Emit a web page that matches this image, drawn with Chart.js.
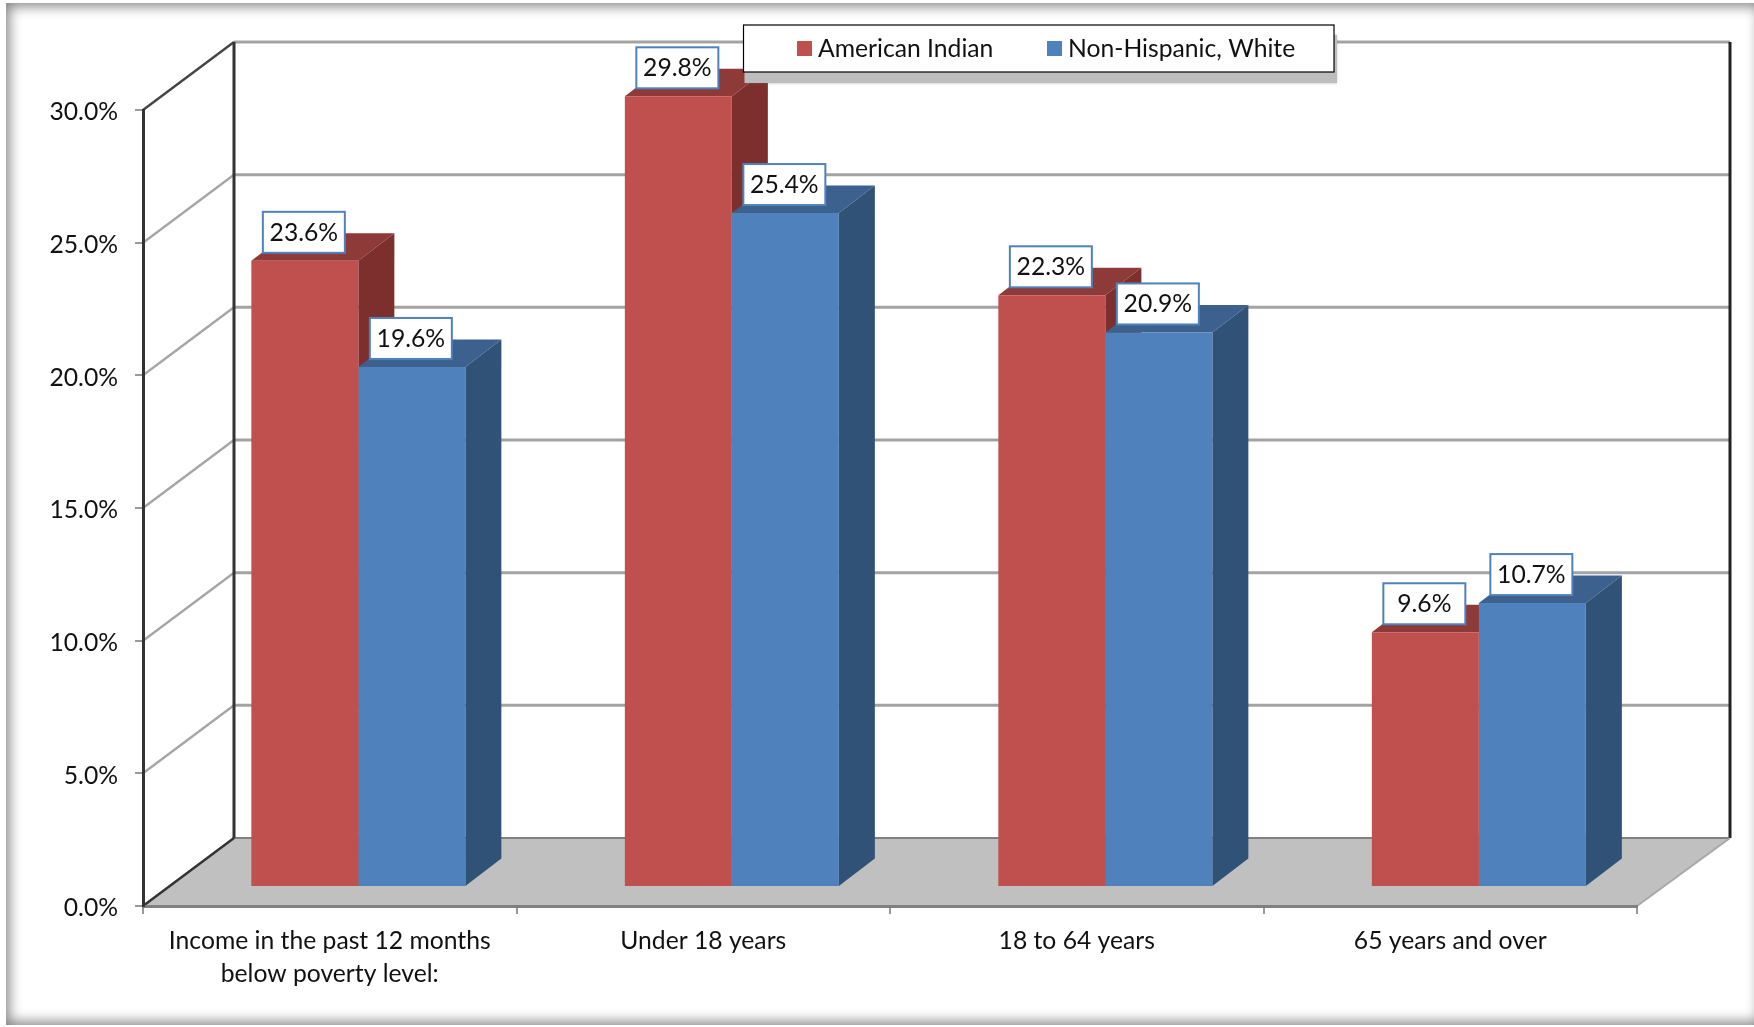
<!DOCTYPE html>
<html>
<head>
<meta charset="utf-8">
<style>
html,body{margin:0;padding:0;background:#fff;width:1754px;height:1027px;overflow:hidden}
#wrap{position:relative;width:1754px;height:1027px}
canvas{position:absolute;left:0;top:0;filter:blur(0.5px)}
#frame{position:absolute;left:6px;top:3px;width:1756px;height:1022px;box-shadow:inset 0 0 13px 3px #808080;pointer-events:none}
</style>
<script src="https://cdn.jsdelivr.net/npm/chart.js@4"></script>
</head>
<body>
<div id="wrap"><canvas id="c" width="1754" height="1027"></canvas><div id="frame"></div></div>
<script>
const categories = [['Income in the past 12 months','below poverty level:'],'Under 18 years','18 to 64 years','65 years and over'];
const americanIndian = [23.6, 29.8, 22.3, 9.6];
const nonHispanicWhite = [19.6, 25.4, 20.9, 10.7];
const seriesNames = ['American Indian','Non-Hispanic, White'];

const FONT = 'Lato, Carlito, "Open Sans", sans-serif';
const FONT_SIZE = 24.7;
const WALL = {dx:91, dy:-68, right:1730};
const PLANE = {dx:28.6, dy:-19};
const DEPTH = {dx:36, dy:-27.5};
const SHADES = [
  {side:'#7d2f2d', top:'#8e3a38'},
  {side:'#315277', top:'#3c618e'}
];

function line(ctx, pts, color, w){
  ctx.beginPath();
  pts.forEach((p,i)=> i?ctx.lineTo(p[0],p[1]):ctx.moveTo(p[0],p[1]));
  ctx.strokeStyle=color; ctx.lineWidth=w; ctx.stroke();
}
function poly(ctx, pts, color){
  ctx.beginPath();
  pts.forEach((p,i)=> i?ctx.lineTo(p[0],p[1]):ctx.moveTo(p[0],p[1]));
  ctx.closePath(); ctx.fillStyle=color; ctx.fill();
}

const threeD = {
  id:'threeD',
  beforeDraw(chart){
    const {ctx, chartArea:a, scales:{y}} = chart;
    ctx.save();
    const x0=a.left, x1=a.right, bx0=x0+WALL.dx, bx1=WALL.right;
    const zero=y.getPixelForValue(0), bz=zero+WALL.dy;
    poly(ctx,[[x0,zero],[bx0,bz],[bx1,bz],[x1,zero]],'#c0c0c0');
    y.ticks.forEach(t=>{
      const py=y.getPixelForValue(t.value), by=py+WALL.dy;
      if(t.value===0) return;
      line(ctx,[[bx0,by],[bx1,by]],'#a3a3a3',3);
      line(ctx,[[x0,py],[bx0,by]],t.value===30?'#444':'#a6a6a6',2.4);
    });
    line(ctx,[[bx0,bz],[bx1,bz]],'#808080',2);
    line(ctx,[[bx0,y.getPixelForValue(30)+WALL.dy],[bx0,bz]],'#333',3);
    line(ctx,[[bx1,y.getPixelForValue(30)+WALL.dy],[bx1,bz]],'#222',3);
    line(ctx,[[x0,zero],[bx0,bz]],'#333',2.5);
    line(ctx,[[x1,zero],[bx1,bz]],'#a8a8a8',2);
    ctx.restore();
  },
  beforeDatasetsDraw(chart){
    const ctx=chart.ctx;
    ctx.save();
    ctx.translate(PLANE.dx,PLANE.dy);
    chart.data.datasets.forEach((ds,di)=>{
      const s=SHADES[di];
      chart.getDatasetMeta(di).data.forEach(el=>{
        const p=el.getProps(['x','y','base','width'],true);
        const l=p.x-p.width/2, r=p.x+p.width/2, t=p.y, b=p.base;
        poly(ctx,[[l,t],[r,t],[r+DEPTH.dx,t+DEPTH.dy],[l+DEPTH.dx,t+DEPTH.dy]],s.top);
        poly(ctx,[[r,t],[r+DEPTH.dx,t+DEPTH.dy],[r+DEPTH.dx,b+DEPTH.dy],[r,b]],s.side);
      });
    });
    ctx.restore();
  },
  beforeDatasetDraw(chart){
    chart.ctx.save();
    chart.ctx.translate(PLANE.dx,PLANE.dy);
  },
  afterDatasetDraw(chart){ chart.ctx.restore(); },
  afterDatasetsDraw(chart){
    const ctx=chart.ctx;
    ctx.save();
    ctx.font=FONT_SIZE+'px '+FONT;
    ctx.textAlign='center'; ctx.textBaseline='middle';
    chart.data.datasets.forEach((ds,di)=>{
      chart.getDatasetMeta(di).data.forEach((el,i)=>{
        const p=el.getProps(['x','y'],true);
        const cx=p.x+PLANE.dx-1, cy=p.y+PLANE.dy-28.5, w=82, h=41;
        ctx.fillStyle='#fff';
        ctx.fillRect(cx-w/2,cy-h/2,w,h);
        ctx.strokeStyle='#4f81bd'; ctx.lineWidth=2;
        ctx.strokeRect(cx-w/2,cy-h/2,w,h);
        ctx.fillStyle='#111';
        ctx.fillText(ds.data[i].toFixed(1)+'%',cx,cy+0.5);
      });
    });
    // legend
    const lx=743.5, ly=25, lw=590.5, lh=47;
    ctx.fillStyle='#bdbdbd';
    ctx.shadowColor='rgba(120,120,120,.5)'; ctx.shadowBlur=3;
    ctx.fillRect(lx+1,ly+10,lw+2,lh+1);
    ctx.shadowColor='transparent'; ctx.shadowBlur=0;
    ctx.fillStyle='#fff'; ctx.fillRect(lx,ly,lw,lh);
    ctx.strokeStyle='#000'; ctx.lineWidth=1.2; ctx.strokeRect(lx,ly,lw,lh);
    const sw=[797,1047], tx=[818,1068];
    chart.data.datasets.forEach((ds,di)=>{
      ctx.fillStyle=ds.backgroundColor;
      ctx.fillRect(sw[di],41,15,15);
      ctx.fillStyle='#111'; ctx.textAlign='left';
      ctx.fillText(ds.label,tx[di],49);
    });
    ctx.restore();
  }
};

new Chart(document.getElementById('c'),{
  type:'bar',
  data:{
    labels:categories,
    datasets:[
      {label:seriesNames[0],data:americanIndian,backgroundColor:'#c0504d',clip:false},
      {label:seriesNames[1],data:nonHispanicWhite,backgroundColor:'#4f81bd',clip:false}
    ]
  },
  options:{
    responsive:false,
    animation:false,
    layout:{padding:{top:110,right:117,bottom:0,left:0}},
    datasets:{bar:{categoryPercentage:0.573,barPercentage:1,borderWidth:0}},
    plugins:{legend:{display:false},title:{display:false},tooltip:{enabled:false}},
    scales:{
      x:{
        afterFit(s){s.height=121;},
        grid:{display:true,drawOnChartArea:false,drawTicks:true,tickLength:8,color:'#999',lineWidth:2,offset:true},
        border:{display:true,color:'#808080',width:3},
        ticks:{color:'#111',font:{family:FONT,size:FONT_SIZE,lineHeight:33/FONT_SIZE},padding:11,maxRotation:0,minRotation:0,autoSkip:false}
      },
      y:{
        min:0,max:30,
        afterFit(s){s.width=143;},
        grid:{display:true,drawOnChartArea:false,drawTicks:true,tickLength:8,color:'#999',lineWidth:2},
        border:{display:true,color:'#333',width:3},
        ticks:{stepSize:5,color:'#111',font:{family:FONT,size:FONT_SIZE,lineHeight:0.2},padding:17,callback:v=>['',v.toFixed(1)+'%']}
      }
    }
  },
  plugins:[threeD]
});
</script>
</body>
</html>
